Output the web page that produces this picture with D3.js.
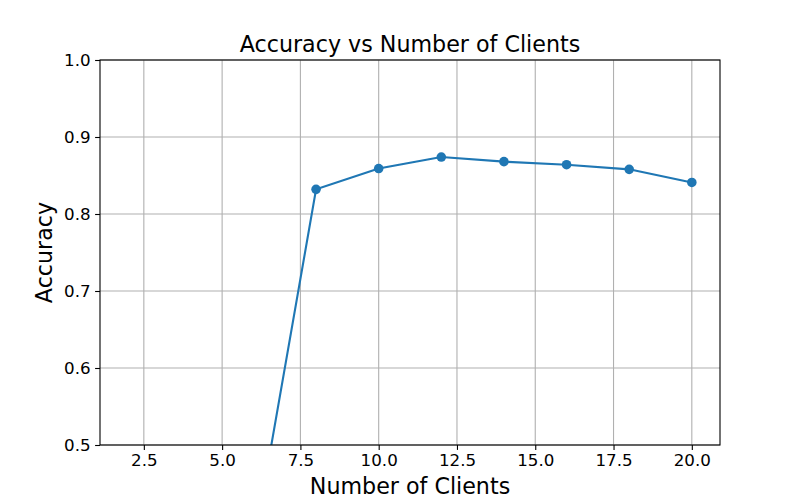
<!DOCTYPE html>
<html>
<head>
<meta charset="utf-8">
<script src="https://cdn.jsdelivr.net/npm/d3@7"></script>
<style>
  body { margin: 0; background: #fff; }
  text { font-family: "DejaVu Sans", sans-serif; fill: #000; }
</style>
</head>
<body>
<div id="grafica"></div>
<script>
// datos
const clients = [2, 4, 6, 8, 10, 12, 14, 16, 18, 20]
const accuracy = [0.18, 0.27, 0.367, 0.832, 0.859, 0.874, 0.868, 0.864, 0.858, 0.841]
const xTicks = [2.5, 5.0, 7.5, 10.0, 12.5, 15.0, 17.5, 20.0]
const yTicks = [0.5, 0.6, 0.7, 0.8, 0.9, 1.0]

const titleText = "Accuracy vs Number of Clients"
const xLabel = "Number of Clients"
const yLabel = "Accuracy"

let width = 800
let height = 500
let padLeft = 100, padRight = 720, padTop = 60, padBottom = 445

const xScale = d3.scaleLinear()
    .domain([1.1, 20.9])
    .range([padLeft, padRight])

const yScale = d3.scaleLinear()
    .domain([0.5, 1.0])
    .range([padBottom, padTop])

const svg = d3.select('#grafica')
    .append("svg")
    .attr("width", width)
    .attr("height", height)

svg.append("defs").append("clipPath")
    .attr("id", "area")
    .append("rect")
    .attr("x", padLeft)
    .attr("y", padTop)
    .attr("width", padRight - padLeft)
    .attr("height", padBottom - padTop)

// rejilla
const grid = svg.append("g")
grid.selectAll("line.gx")
    .data(xTicks)
    .enter()
    .append("line")
    .attr("x1", d => xScale(d))
    .attr("x2", d => xScale(d))
    .attr("y1", padTop)
    .attr("y2", padBottom)
    .attr("stroke", "#b0b0b0")
    .attr("stroke-width", 1.1)

grid.selectAll("line.gy")
    .data(yTicks)
    .enter()
    .append("line")
    .attr("x1", padLeft)
    .attr("x2", padRight)
    .attr("y1", d => yScale(d))
    .attr("y2", d => yScale(d))
    .attr("stroke", "#b0b0b0")
    .attr("stroke-width", 1.1)

// linea y puntos
const data = clients.map((c, i) => [c, accuracy[i]])
const plot = svg.append("g").attr("clip-path", "url(#area)")

plot.append("path")
    .datum(data)
    .attr("fill", "none")
    .attr("stroke", "#1f77b4")
    .attr("stroke-width", 2.1)
    .attr("d", d3.line().x(d => xScale(d[0])).y(d => yScale(d[1])))

plot.selectAll("circle")
    .data(data)
    .enter()
    .append("circle")
    .attr("cx", d => xScale(d[0]))
    .attr("cy", d => yScale(d[1]))
    .attr("r", 4.8)
    .attr("fill", '#1f77b4')

// ejes
const xAxis = d3.axisBottom(xScale)
    .tickValues(xTicks)
    .tickFormat(d3.format(".1f"))
    .tickSize(4.9)
    .tickPadding(4.5)

const yAxis = d3.axisLeft(yScale)
    .tickValues(yTicks)
    .tickFormat(d3.format(".1f"))
    .tickSize(4.9)
    .tickPadding(4.5)

const gx = svg.append("g")
    .attr("transform", "translate(0," + padBottom + ")")
    .call(xAxis)
const gy = svg.append("g")
    .attr("transform", "translate(" + padLeft + ",0)")
    .call(yAxis)

for (const g of [gx, gy]) {
    g.select(".domain").remove()
    g.selectAll(".tick line").attr("stroke", "#000").attr("stroke-width", 1.1)
    g.selectAll(".tick text")
        .attr("font-size", "16.7px")
        .attr("font-family", "DejaVu Sans")
}

// marco
svg.append("rect")
    .attr("x", padLeft)
    .attr("y", padTop)
    .attr("width", padRight - padLeft)
    .attr("height", padBottom - padTop)
    .attr("fill", "none")
    .attr("stroke", "#000")
    .attr("stroke-width", 1.1)

svg.append("text")
    .attr("text-anchor", "middle")
    .attr("x", (padLeft + padRight) / 2)
    .attr("y", 52)
    .attr("font-size", "22.2px")
    .text(titleText)

svg.append("text")
    .attr("text-anchor", "middle")
    .attr("x", (padLeft + padRight) / 2)
    .attr("y", 494)
    .attr("font-size", "22.2px")
    .text(xLabel)

svg.append("text")
    .attr("text-anchor", "middle")
    .attr("transform", "translate(52," + (padTop + padBottom) / 2 + ") rotate(-90)")
    .attr("font-size", "22.2px")
    .text(yLabel)
</script>
</body>
</html>
